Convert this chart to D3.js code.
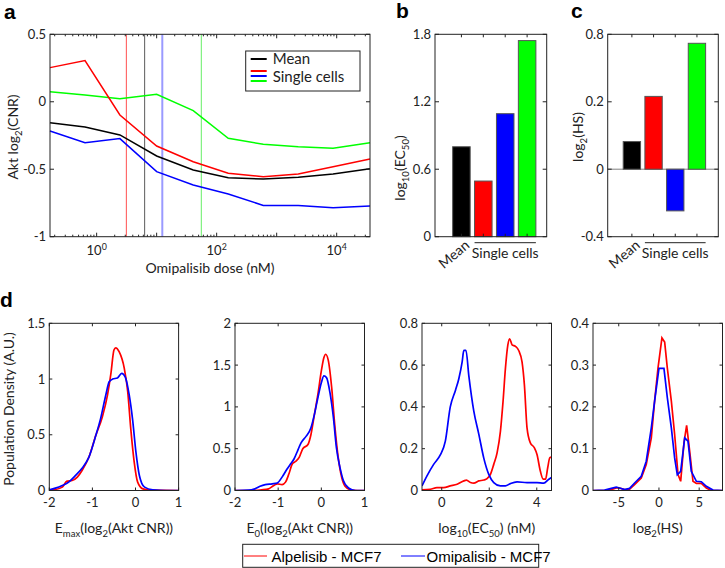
<!DOCTYPE html>
<html><head><meta charset="utf-8">
<script src="https://cdn.jsdelivr.net/npm/d3@7"></script>
<style>
body{margin:0;background:#fff;}
svg{display:block;font-family:Lato,"Open Sans",sans-serif;}
</style></head><body>
<svg id="c" width="725" height="568"></svg>
<script>
// ---------- DATA ----------
// panel a
const doses = [0.167, 0.64, 2.44, 10, 40.7, 156, 598, 2290, 8710, 35900];
const meanCurve = [-0.155, -0.187, -0.246, -0.402, -0.506, -0.563, -0.573, -0.560, -0.535, -0.496];
const cellRed   = [0.253, 0.305, -0.098, -0.328, -0.444, -0.530, -0.555, -0.535, -0.481, -0.424];
const cellBlue  = [-0.217, -0.303, -0.273, -0.518, -0.617, -0.684, -0.768, -0.768, -0.785, -0.773];
const cellGreen = [0.075, 0.05, 0.023, 0.055, -0.066, -0.271, -0.315, -0.333, -0.345, -0.303];
const yTicksA = [-1, -0.5, 0, 0.5];
const xTicksA = [1, 100, 10000];
// panel b, c
const barNames = ["Mean", "Cell 1", "Cell 2", "Cell 3"];
const barColors = ["#000000", "#ff0000", "#0000ff", "#00ff00"];
const log10EC50 = [0.80, 0.495, 1.094, 1.744];
const log2HS = [0.082, 0.248, -0.247, 0.72];
const yTicksB = [0, 0.6, 1.2, 1.8];
const yTicksC = [-0.4, 0, 0.2, 0.8];
// panel d (x, density)
const emaxRed = [[-2,0.006],[-1.86,0.009],[-1.70,0.03],[-1.59,0.084],[-1.47,0.09],[-1.35,0.12],[-1.24,0.18],[-1.08,0.3],[-0.92,0.495],[-0.77,0.66],[-0.65,0.855],[-0.57,1.05],[-0.50,1.26],[-0.46,1.28],[-0.38,1.245],[-0.26,1.095],[-0.18,0.885],[-0.11,0.555],[-0.03,0.255],[0.05,0.075],[0.17,0.015],[0.40,0.003],[1.0,0]];
const emaxBlue = [[-2,0.006],[-1.86,0.021],[-1.70,0.045],[-1.55,0.075],[-1.39,0.135],[-1.24,0.2],[-1.08,0.3],[-0.92,0.495],[-0.81,0.645],[-0.69,0.855],[-0.61,0.975],[-0.53,1.0],[-0.42,1.01],[-0.32,1.05],[-0.24,1.02],[-0.145,0.855],[-0.07,0.645],[0.01,0.345],[0.09,0.135],[0.21,0.03],[0.40,0.006],[0.71,0],[1.0,0]];
const e0Red = [[-2,0],[-1.61,0],[-1.38,0.008],[-1.22,0.02],[-1.10,0.06],[-1.02,0.08],[-0.91,0.07],[-0.83,0.1],[-0.75,0.2],[-0.67,0.32],[-0.59,0.35],[-0.51,0.4],[-0.43,0.5],[-0.31,0.55],[-0.24,0.67],[-0.16,0.91],[-0.08,1.15],[0,1.43],[0.06,1.59],[0.10,1.63],[0.16,1.56],[0.24,1.23],[0.31,0.79],[0.39,0.4],[0.47,0.16],[0.55,0.05],[0.67,0.008],[0.83,0],[1,0]];
const e0Blue = [[-2,0],[-1.69,0.004],[-1.54,0.02],[-1.42,0.05],[-1.30,0.07],[-1.14,0.08],[-1.02,0.09],[-0.91,0.16],[-0.79,0.26],[-0.71,0.32],[-0.63,0.38],[-0.55,0.475],[-0.47,0.57],[-0.35,0.65],[-0.24,0.75],[-0.16,0.91],[-0.08,1.11],[0,1.29],[0.06,1.37],[0.12,1.35],[0.20,1.17],[0.28,0.87],[0.35,0.51],[0.43,0.28],[0.51,0.12],[0.63,0.03],[0.79,0],[1,0]];
const ecRed = [[-0.83,0.003],[-0.48,0.006],[-0.20,0.014],[0.08,0.014],[0.36,0.022],[0.65,0.03],[0.93,0.046],[1.04,0.05],[1.21,0.038],[1.35,0.035],[1.56,0.046],[1.77,0.05],[1.91,0.057],[2.05,0.077],[2.19,0.125],[2.33,0.18],[2.47,0.283],[2.58,0.425],[2.68,0.583],[2.78,0.694],[2.86,0.726],[2.96,0.697],[3.10,0.69],[3.24,0.67],[3.38,0.615],[3.48,0.504],[3.59,0.3],[3.73,0.228],[3.90,0.204],[4.01,0.172],[4.15,0.093],[4.27,0.054],[4.37,0.054],[4.46,0.109],[4.55,0.157],[4.62,0.16]];
const ecBlue = [[-0.83,0.022],[-0.62,0.07],[-0.34,0.125],[-0.06,0.17],[0.15,0.235],[0.36,0.40],[0.58,0.48],[0.72,0.535],[0.86,0.615],[0.93,0.67],[1.02,0.67],[1.14,0.55],[1.35,0.38],[1.56,0.27],[1.77,0.155],[1.98,0.077],[2.19,0.038],[2.47,0.022],[2.68,0.022],[2.89,0.033],[3.17,0.041],[3.59,0.038],[4.01,0.038],[4.29,0.035],[4.51,0.054],[4.62,0.062]];
const hsRed = [[-8.2,0],[-6.76,0],[-5.93,0.002],[-5.31,0.006],[-4.90,0.006],[-4.27,0.002],[-3.65,0.003],[-3.03,0.014],[-2.20,0.03],[-1.58,0.062],[-0.95,0.126],[-0.54,0.214],[-0.12,0.293],[0.37,0.365],[0.71,0.355],[1.04,0.293],[1.54,0.214],[1.95,0.134],[2.37,0.038],[2.70,0.022],[3.11,0.114],[3.44,0.156],[3.82,0.094],[4.23,0.022],[4.65,0.017],[5.27,0.017],[5.89,0.006],[6.51,0],[7.9,0]];
const hsBlue = [[-8.2,0],[-6.76,0.001],[-5.93,0.005],[-5.31,0.008],[-4.90,0.006],[-4.27,0.002],[-3.65,0.005],[-3.03,0.018],[-2.20,0.034],[-1.58,0.07],[-0.95,0.15],[-0.54,0.214],[0,0.292],[0.62,0.292],[1.04,0.222],[1.54,0.15],[1.95,0.078],[2.28,0.038],[2.70,0.046],[3.20,0.126],[3.61,0.118],[4.02,0.046],[4.65,0.022],[5.27,0.021],[5.89,0.01],[6.72,0.001],[7.9,0]];
const densTicksY = [[0,0.5,1,1.5],[0,0.5,1,1.5,2],[0,0.2,0.4,0.6,0.8],[0,0.1,0.2,0.3,0.4]];
const densTicksX = [[-2,-1,0,1],[-2,-1,0,1],[0,2,4],[-5,0,5]];

// ---------- HELPERS ----------
const svg = d3.select("#c");
const AX = "#222";
const TF = 13;
const LF = 14;
function rich(sel, parts, size) {
  let shift = 0;
  parts.forEach(([t, k]) => {
    const target = k === "sub" ? 3.5 : k === "sup" ? -5 : 0;
    const ts = sel.append("tspan").text(t).attr("dy", target - shift);
    if (k !== "n") ts.attr("font-size", size * 0.68);
    shift = target;
  });
}
function frame(x0, x1, y0, y1) {
  svg.append("rect").attr("x", x0).attr("y", y0).attr("width", x1 - x0).attr("height", y1 - y0)
    .attr("fill", "none").attr("stroke", AX).attr("stroke-width", 1);
}
function yTicks(scale, ticks, x0, x1, fmt, len) {
  ticks.forEach(t => {
    const y = scale(t);
    svg.append("line").attr("x1", x0).attr("x2", x0 + len).attr("y1", y).attr("y2", y).attr("stroke", AX);
    svg.append("line").attr("x1", x1).attr("x2", x1 - len).attr("y1", y).attr("y2", y).attr("stroke", AX);
    svg.append("text").attr("x", x0 - 4).attr("y", y + 4.5).attr("text-anchor", "end")
      .attr("font-size", TF).attr("fill", AX).text(fmt(t));
  });
}
function xTicks(scale, ticks, y0, y1, len, label) {
  ticks.forEach(t => {
    const x = scale(t);
    svg.append("line").attr("x1", x).attr("x2", x).attr("y1", y1).attr("y2", y1 - len).attr("stroke", AX);
    svg.append("line").attr("x1", x).attr("x2", x).attr("y1", y0).attr("y2", y0 + len).attr("stroke", AX);
    if (label) svg.append("text").attr("x", x).attr("y", y1 + 16).attr("text-anchor", "middle")
      .attr("font-size", TF).attr("fill", AX).text(label(t));
  });
}
function panelLabel(t, x, y) {
  svg.append("text").attr("x", x).attr("y", y).attr("font-family", "Liberation Sans, Arial, sans-serif")
    .attr("font-weight", "bold").attr("font-size", 21).text(t);
}
const fmtNum = t => t === 0 ? "0" : String(t);

// ---------- PANEL A ----------
{
  const L = 50, R = 370, T = 34.3, B = 236.7;
  const x = d3.scaleLog().domain([doses[0], doses[doses.length - 1]]).range([L, R]);
  const y = d3.scaleLinear().domain([-1, 0.5]).range([B, T]);
  const vcol = ["#5a5a5a", "#ff5050", "#9a9aff", "#66ee66"];
  const vw = [1, 1, 2, 1];
  log10EC50.forEach((v, i) => {
    const xx = x(Math.pow(10, v));
    svg.append("line").attr("x1", xx).attr("x2", xx).attr("y1", T).attr("y2", B)
      .attr("stroke", vcol[i]).attr("stroke-width", vw[i]);
  });
  const line = d3.line().x((d, i) => x(doses[i])).y(d => y(d));
  [[cellGreen, "#00ff00"], [cellBlue, "#0000ff"], [cellRed, "#ff0000"], [meanCurve, "#000000"]].forEach(([s, c]) => {
    svg.append("path").attr("d", line(s)).attr("fill", "none").attr("stroke", c).attr("stroke-width", 1.5);
  });
  frame(L, R, T, B);
  yTicks(y, yTicksA, L, R, fmtNum, 4);
  for (let e = -1; e <= 4; e++) for (let k = 1; k <= 9; k++) {
    const v = k * Math.pow(10, e);
    if (v < doses[0] || v > doses[doses.length - 1]) continue;
    const len = k === 1 ? 4 : 2;
    const xx = x(v);
    svg.append("line").attr("x1", xx).attr("x2", xx).attr("y1", B).attr("y2", B - len).attr("stroke", AX);
    svg.append("line").attr("x1", xx).attr("x2", xx).attr("y1", T).attr("y2", T + len).attr("stroke", AX);
  }
  xTicksA.forEach(v => {
    const t = svg.append("text").attr("x", x(v)).attr("y", B + 18).attr("text-anchor", "middle")
      .attr("font-size", TF).attr("fill", AX);
    rich(t, [["10", "n"], [String(Math.round(Math.log10(v))), "sup"]], TF);
  });
  svg.append("text").attr("x", (L + R) / 2).attr("y", 273).attr("text-anchor", "middle")
    .attr("font-size", LF).attr("fill", AX).text("Omipalisib dose (nM)");
  const yl = svg.append("text").attr("transform", `translate(18,137) rotate(-90)`).attr("text-anchor", "middle")
    .attr("font-size", LF).attr("fill", AX);
  rich(yl, [["Akt log", "n"], ["2", "sub"], ["(CNR)", "n"]], LF);
  svg.append("rect").attr("x", 245.7).attr("y", 51).attr("width", 114.3).attr("height", 40)
    .attr("fill", "#fff").attr("stroke", AX);
  svg.append("line").attr("x1", 250.7).attr("x2", 266.7).attr("y1", 59).attr("y2", 59).attr("stroke", "#000").attr("stroke-width", 2);
  [["#ff0000", 71], ["#0000ff", 76], ["#00ff00", 81]].forEach(([c, yy]) =>
    svg.append("line").attr("x1", 250.7).attr("x2", 266.7).attr("y1", yy).attr("y2", yy).attr("stroke", c).attr("stroke-width", 2));
  svg.append("text").attr("x", 272.7).attr("y", 64).attr("font-size", 15).attr("fill", AX).text("Mean");
  svg.append("text").attr("x", 272.7).attr("y", 81.5).attr("font-size", 15).attr("fill", AX).text("Single cells");
  panelLabel("a", 4, 19);
}

// ---------- PANEL B & C ----------
function barPanel(L, R, vals, y, ticks, align, ylabelParts, ylx, yly) {
  const T = 34.3, B = 236.7;
  const x = d3.scaleBand().domain(barNames).range([L, R]).paddingInner(0.2).paddingOuter(0.65).align(align);
  vals.forEach((v, i) => {
    const y0 = y(0), y1 = y(v);
    svg.append("rect").attr("x", x(barNames[i])).attr("width", x.bandwidth())
      .attr("y", Math.min(y0, y1)).attr("height", Math.abs(y1 - y0))
      .attr("fill", barColors[i]).attr("stroke", "#555").attr("stroke-width", 1);
  });
  frame(L, R, T, B);
  yTicks(y, ticks, L, R, fmtNum, 4);
  barNames.forEach(n => {
    const xx = x(n) + x.bandwidth() / 2;
    svg.append("line").attr("x1", xx).attr("x2", xx).attr("y1", B).attr("y2", B - 3).attr("stroke", AX);
    svg.append("line").attr("x1", xx).attr("x2", xx).attr("y1", T).attr("y2", T + 3).attr("stroke", AX);
  });
  const cm = x("Mean") + x.bandwidth() / 2;
  svg.append("text").attr("transform", `translate(${cm + 9},${B + 10}) rotate(-40)`).attr("text-anchor", "end")
    .attr("font-size", LF).attr("fill", AX).text("Mean");
  const sx0 = x(barNames[1]), sx1 = x(barNames[3]) + x.bandwidth();
  svg.append("line").attr("x1", sx0).attr("x2", sx1).attr("y1", 242.7).attr("y2", 242.7).attr("stroke", AX);
  svg.append("text").attr("x", (sx0 + sx1) / 2).attr("y", 258).attr("text-anchor", "middle")
    .attr("font-size", LF).attr("fill", AX).text("Single cells");
  const yl = svg.append("text").attr("transform", `translate(${ylx},${yly}) rotate(-90)`).attr("text-anchor", "middle")
    .attr("font-size", LF).attr("fill", AX);
  rich(yl, ylabelParts, LF);
  return x;
}
{
  const y = d3.scaleLinear().domain([0, 1.8]).range([236.7, 34.3]);
  barPanel(435, 546.7, log10EC50, y, yTicksB, 0.62, [["log", "n"], ["10", "sub"], ["(EC", "n"], ["50", "sub"], [")", "n"]], 405, 168);
  panelLabel("b", 396, 18);
}
{
  const y = d3.scaleLinear().domain(yTicksC).range([236.7, 169.2, 101.8, 34.3]);
  svg.append("line").attr("x1", 607.7).attr("x2", 718.3).attr("y1", y(0)).attr("y2", y(0)).attr("stroke", "#808080");
  barPanel(607.7, 718.3, log2HS, y, yTicksC, 0.55, [["log", "n"], ["2", "sub"], ["(HS)", "n"]], 583, 137);
  panelLabel("c", 571, 18);
}

// ---------- PANEL D ----------
const dPanels = [
  {L: 49.3, R: 178.6, xd: [-2, 1], yd: [0, 1.5], s: [emaxRed, emaxBlue], curve: d3.curveMonotoneX,
   lab: [["E", "n"], ["max", "sub"], ["(log", "n"], ["2", "sub"], ["(Akt CNR))", "n"]]},
  {L: 235, R: 364.5, xd: [-2, 1], yd: [0, 2], s: [e0Red, e0Blue], curve: d3.curveMonotoneX,
   lab: [["E", "n"], ["0", "sub"], ["(log", "n"], ["2", "sub"], ["(Akt CNR))", "n"]]},
  {L: 422, R: 551.5, xd: [-0.83, 4.62], yd: [0, 0.8], s: [ecRed, ecBlue], curve: d3.curveMonotoneX,
   lab: [["log", "n"], ["10", "sub"], ["(EC", "n"], ["50", "sub"], [") (nM)", "n"]]},
  {L: 593, R: 722.5, xd: [-8.2, 7.9], yd: [0, 0.4], s: [hsRed, hsBlue], curve: d3.curveLinear,
   lab: [["log", "n"], ["2", "sub"], ["(HS)", "n"]]}
];
dPanels.forEach((p, i) => {
  const T = 323.3, B = 490.5;
  const x = d3.scaleLinear().domain(p.xd).range([p.L, p.R]);
  const y = d3.scaleLinear().domain(p.yd).range([B, T]);
  const id = "clip" + i;
  svg.append("clipPath").attr("id", id).append("rect").attr("x", p.L).attr("y", T).attr("width", p.R - p.L).attr("height", B - T);
  const line = d3.line().x(d => x(d[0])).y(d => y(d[1])).curve(p.curve);
  [[p.s[0], "#ff0000"], [p.s[1], "#0000ff"]].forEach(([s, c]) =>
    svg.append("path").attr("d", line(s)).attr("fill", "none").attr("stroke", c).attr("stroke-width", 1.7)
      .attr("clip-path", `url(#${id})`));
  frame(p.L, p.R, T, B);
  yTicks(y, densTicksY[i], p.L, p.R, fmtNum, 3);
  xTicks(x, densTicksX[i], T, B, 3, fmtNum);
  const t = svg.append("text").attr("x", (p.L + p.R) / 2).attr("y", 533).attr("text-anchor", "middle")
    .attr("font-size", LF).attr("fill", AX);
  rich(t, p.lab, LF);
});
{
  svg.append("text").attr("transform", `translate(14,409) rotate(-90)`).attr("text-anchor", "middle")
    .attr("font-size", LF).attr("fill", AX).text("Population Density (A.U.)");
  panelLabel("d", 0, 307);
  svg.append("rect").attr("x", 242.7).attr("y", 544.3).attr("width", 296).attr("height", 23)
    .attr("fill", "#fff").attr("stroke", AX);
  const lg = [["#ff0000", 244, 267, 271.5, "Alpelisib - MCF7"], ["#0000ff", 401, 425, 426.5, "Omipalisib - MCF7"]];
  lg.forEach(([c, a, b, tx, label]) => {
    svg.append("line").attr("x1", a).attr("x2", b).attr("y1", 556).attr("y2", 556).attr("stroke", c).attr("stroke-width", 1);
    svg.append("text").attr("x", tx).attr("y", 561.5).attr("font-family", "Liberation Sans, Arial, sans-serif")
      .attr("font-size", 15).attr("fill", "#000").text(label);
  });
}
</script>
</body></html>
